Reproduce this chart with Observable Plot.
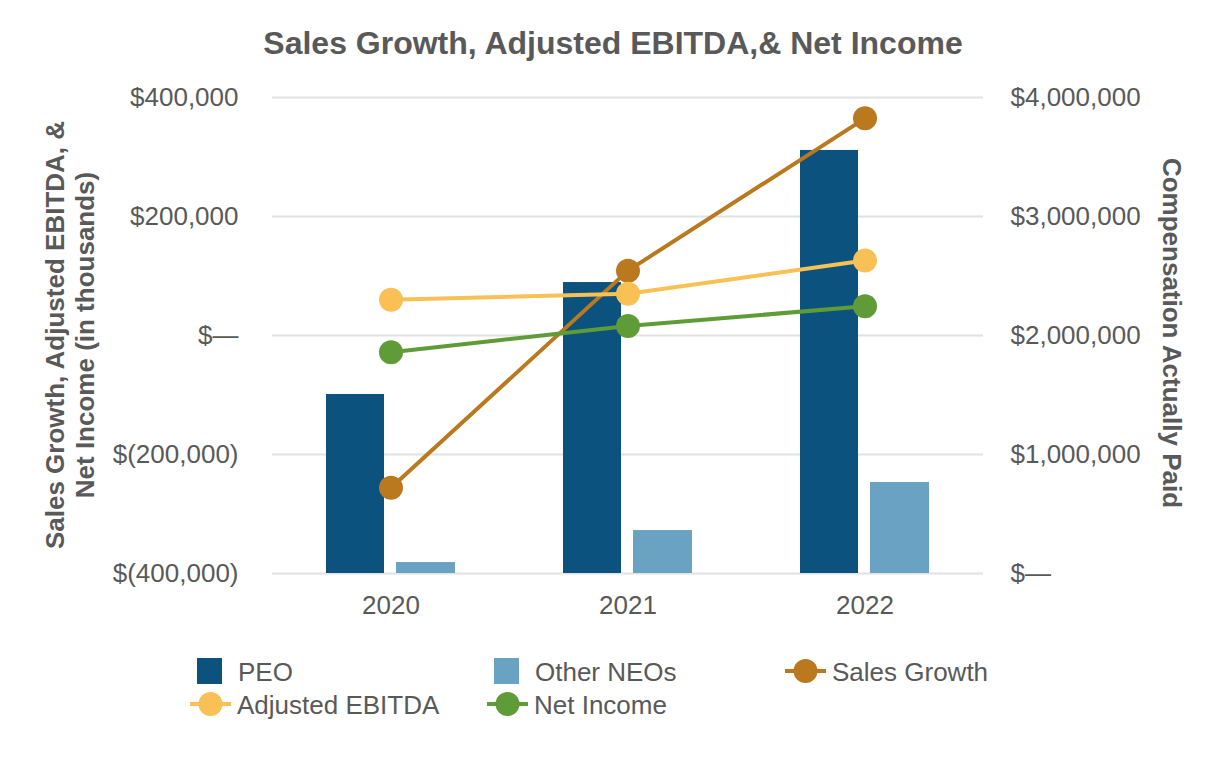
<!DOCTYPE html>
<html>
<head>
<meta charset="utf-8">
<script src="https://cdn.jsdelivr.net/npm/d3@7"></script>
<script src="https://cdn.jsdelivr.net/npm/@observablehq/plot@0.6"></script>
<style>
  html, body { margin: 0; padding: 0; background: #ffffff; }
  #wrap { position: relative; width: 1226px; height: 760px; overflow: hidden;
          font-family: "Liberation Sans", Arial, sans-serif; color: #595959; }
  #chart { position: absolute; left: 0; top: 0; }
  .title { position: absolute; left: 0; top: 27px; width: 1226px; text-align: center;
           font-size: 32px; font-weight: bold; line-height: 32px; }
  .ytitle { position: absolute; text-align: center; font-size: 26px; font-weight: bold;
            line-height: 30px; width: 500px; white-space: nowrap; }
  #legend { position: absolute; left: 0; top: 640px; }
</style>
</head>
<body>
<div id="wrap">
  <div id="chart"></div>
  <div class="title">Sales Growth, Adjusted EBITDA,&amp; Net Income</div>
  <div class="ytitle" style="left:-180px; top:305px; height:60px; transform: rotate(-90deg);">Sales Growth, Adjusted EBITDA, &amp;<br>Net Income (in thousands)</div>
  <div class="ytitle" style="left:922px; top:318px; height:30px; transform: rotate(90deg);">Compensation Actually Paid</div>
  <svg id="legend" width="1226" height="90"></svg>
</div>
<script>
// Fiscal years
const years = ["2020", "2021", "2022"];

// Compensation actually paid (right axis, dollars)
const peoCAP = [1504000, 2445000, 3555000];
const otherNeoCAP = [92000, 361000, 765000];

// Company performance (left axis, $ thousands)
const salesGrowth = [-256000, 109000, 365000];
const adjustedEbitda = [60000, 70000, 126000];
const netIncome = [-28000, 16000, 49000];

// Axis ticks
const leftTicks = [-400000, -200000, 0, 200000, 400000];
const rightTicks = [0, 1000000, 2000000, 3000000, 4000000];

// Colours
const colors = {
  peo: "#0b527f",
  other: "#6aa2c3",
  sales: "#ba791f",
  ebitda: "#f8c055",
  net: "#5f9b37"
};

// Left domain, and the matching right-axis domain used for compensation
const leftDomain = [-400000, 400000];
const rightDomain = [0, 4000000];
const toLeft = v => leftDomain[0] + (v - rightDomain[0]) / (rightDomain[1] - rightDomain[0]) * (leftDomain[1] - leftDomain[0]);
const fromLeft = v => rightDomain[0] + (v - leftDomain[0]) / (leftDomain[1] - leftDomain[0]) * (rightDomain[1] - rightDomain[0]);

const fmt = d3.format(",");
const money = v => Math.abs(v) < 0.5 ? "$\u2014" : v < 0 ? `$(${fmt(-v)})` : `$${fmt(v)}`;

const capRows = years.map((year, i) => ({ year, peo: peoCAP[i], other: otherNeoCAP[i] }));
const perfRows = (vals) => years.map((year, i) => ({ year, value: vals[i] }));

const chart = Plot.plot({
  width: 1226,
  height: 760,
  marginTop: 97,
  marginBottom: 187,
  marginLeft: 272,
  marginRight: 243,
  style: { fontFamily: "'Liberation Sans', Arial, sans-serif", fontSize: "26px", color: "#595959", background: "transparent" },
  x: { type: "band", domain: years, padding: 0, label: null },
  y: { domain: leftDomain, label: null },
  marks: [
    Plot.gridY(leftTicks, { stroke: "#e2e2e2", strokeOpacity: 1, strokeWidth: 2 }),
    Plot.barY(capRows, { x: "year", y1: () => toLeft(0), y2: d => toLeft(d.peo), fill: colors.peo, insetLeft: 54, insetRight: 125 }),
    Plot.barY(capRows, { x: "year", y1: () => toLeft(0), y2: d => toLeft(d.other), fill: colors.other, insetLeft: 124, insetRight: 54 }),
    Plot.lineY(perfRows(salesGrowth), { x: "year", y: "value", stroke: colors.sales, strokeWidth: 4 }),
    Plot.dot(perfRows(salesGrowth), { x: "year", y: "value", r: 12, fill: colors.sales }),
    Plot.lineY(perfRows(adjustedEbitda), { x: "year", y: "value", stroke: colors.ebitda, strokeWidth: 4 }),
    Plot.dot(perfRows(adjustedEbitda), { x: "year", y: "value", r: 12, fill: colors.ebitda }),
    Plot.lineY(perfRows(netIncome), { x: "year", y: "value", stroke: colors.net, strokeWidth: 4 }),
    Plot.dot(perfRows(netIncome), { x: "year", y: "value", r: 12, fill: colors.net }),
    Plot.axisY({ anchor: "left", ticks: leftTicks, tickFormat: money, tickSize: 0, tickPadding: 34, label: null }),
    Plot.axisY({ anchor: "right", ticks: rightTicks.map(toLeft), tickFormat: v => money(Math.round(fromLeft(v))), tickSize: 0, tickPadding: 27, label: null }),
    Plot.axisX({ tickSize: 0, tickPadding: 22, label: null })
  ]
});
document.getElementById("chart").appendChild(chart);

// Legend
const legendItems = [
  { label: "PEO", kind: "bar", color: colors.peo, x: 197, row: 0 },
  { label: "Other NEOs", kind: "bar", color: colors.other, x: 494, row: 0 },
  { label: "Sales Growth", kind: "line", color: colors.sales, x: 785, row: 0 },
  { label: "Adjusted EBITDA", kind: "line", color: colors.ebitda, x: 190, row: 1 },
  { label: "Net Income", kind: "line", color: colors.net, x: 487, row: 1 }
];
const legend = d3.select("#legend");
legendItems.forEach(item => {
  const cy = item.row === 0 ? 31 : 64;
  const g = legend.append("g");
  let textX;
  if (item.kind === "bar") {
    g.append("rect").attr("x", item.x).attr("y", cy - 13).attr("width", 25).attr("height", 26).attr("fill", item.color);
    textX = item.x + 41;
  } else {
    g.append("line").attr("x1", item.x).attr("x2", item.x + 41).attr("y1", cy).attr("y2", cy)
      .attr("stroke", item.color).attr("stroke-width", 4);
    g.append("circle").attr("cx", item.x + 20.5).attr("cy", cy).attr("r", 12).attr("fill", item.color);
    textX = item.x + 47;
  }
  g.append("text").attr("x", textX).attr("y", cy + 10)
    .attr("font-family", "'Liberation Sans', Arial, sans-serif").attr("font-size", 26)
    .attr("fill", "#595959").text(item.label);
});
</script>
</body>
</html>
